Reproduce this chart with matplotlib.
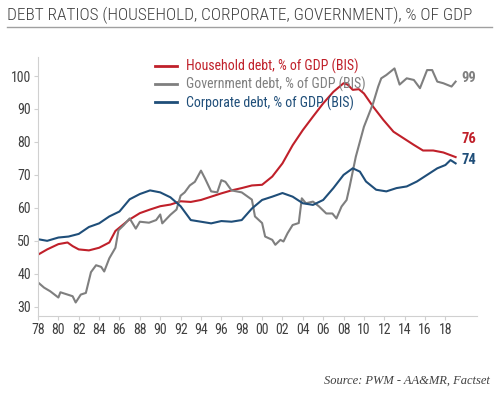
import matplotlib
matplotlib.use("Agg")
import matplotlib.pyplot as plt
from matplotlib.lines import Line2D

COND = ["Roboto Condensed", "PT Sans Narrow", "Liberation Sans Narrow", "DejaVu Sans"]

# values (year, % of GDP)
hh_years = [1978, 1978.9, 1980, 1980.9, 1981.4, 1982, 1983, 1984, 1985, 1985.6, 1986.9,
            1988, 1989, 1990, 1991, 1992, 1993, 1994, 1995, 1996, 1997, 1998, 1999,
            2000, 2001, 2002, 2003, 2004, 2005, 2006, 2007, 2008, 2008.4, 2008.9,
            2009.5, 2010, 2010.9, 2011.9, 2012.9, 2013.9, 2014.9, 2015.8, 2016.8,
            2017.8, 2019]
hh_vals = [45.8, 47.4, 49.0, 49.5, 48.4, 47.4, 47.1, 47.9, 49.5, 53.0, 56.3,
           58.4, 59.5, 60.5, 61.0, 62.0, 61.8, 62.4, 63.4, 64.4, 65.3, 66.0, 66.8,
           67.0, 69.5, 73.5, 79.0, 83.6, 87.7, 91.7, 95.2, 97.8, 97.4, 95.8,
           96.0, 94.7, 90.7, 86.7, 83.1, 81.1, 79.1, 77.4, 77.4,
           76.8, 75.4]

gov_years = [1978, 1978.6, 1979.2, 1980, 1980.2, 1980.9, 1981.4, 1981.7, 1982.2, 1982.7,
             1983.2, 1983.7, 1984.2, 1984.5, 1985, 1985.6, 1985.9, 1986.4, 1987,
             1987.6, 1988, 1988.9, 1989.6, 1990, 1990.2, 1991, 1991.6, 1992, 1992.4,
             1992.9, 1993.4, 1994, 1994.4, 1995, 1995.6, 1996, 1996.4, 1997, 1998,
             1999, 1999.3, 2000, 2000.3, 2001, 2001.3, 2001.8, 2002.1, 2002.5, 2003,
             2003.6, 2003.9, 2004.3, 2005, 2005.6, 2006.3, 2006.9, 2007.3, 2007.8,
             2008.3, 2008.6, 2009.2, 2010, 2010.9, 2011.4, 2011.7, 2012.2, 2013,
             2013.5, 2014.2, 2014.9, 2015.5, 2016.2, 2016.7, 2017.2, 2017.8, 2018.6,
             2019]
gov_vals = [37.4, 35.8, 34.7, 32.8, 34.4, 33.7, 33.2, 31.3, 33.7, 34.2,
            40.5, 42.6, 42.1, 40.7, 44.7, 47.9, 53.2, 54.7, 56.8,
            53.7, 55.8, 55.5, 56.3, 58.0, 55.3, 57.9, 59.5, 63.7, 64.7,
            66.8, 67.9, 71.3, 68.9, 65.0, 64.7, 68.4, 67.9, 65.3, 64.7,
            62.5, 57.4, 55.4, 51.3, 50.3, 48.8, 50.3, 49.8, 52.3, 54.8,
            55.4, 62.9, 61.4, 61.9, 60.4, 58.3, 58.3, 56.8, 60.4,
            62.4, 66.5, 75.5, 84.6, 91.7, 96.8, 99.3, 100.3, 102.3,
            97.4, 99.3, 98.8, 96.3, 101.8, 101.8, 98.3, 97.8, 96.8,
            98.3]

corp_years = [1978, 1978.9, 1980, 1981, 1982, 1983, 1984, 1985, 1986, 1987, 1988, 1989,
              1990, 1991, 1992, 1993, 1994, 1995, 1996, 1997, 1998, 1999, 2000, 2001,
              2002, 2003, 2004, 2005, 2006, 2007, 2008, 2008.9, 2009.6, 2010.2,
              2011.2, 2012.2, 2013.2, 2014.2, 2015.2, 2016.2, 2017.2, 2018, 2018.5,
              2019]
corp_vals = [50.5, 50.0, 51.0, 51.3, 52.1, 54.2, 55.3, 57.4, 58.9, 62.6, 64.2, 65.3,
             64.7, 63.2, 60.5, 56.3, 55.8, 55.3, 56.0, 55.8, 56.3, 59.8, 62.4, 63.4,
             64.5, 63.4, 61.4, 60.9, 62.4, 66.0, 70.0, 72.0, 71.0, 68.0,
             65.5, 65.0, 66.0, 66.5, 68.0, 70.0, 72.0, 73.0, 74.5,
             73.5]

x_ticks = list(range(1978, 2019, 2))
x_labels = [f"{y % 100:02d}" for y in x_ticks]
y_ticks = list(range(30, 101, 10))

RED, GRAY, BLUE = "#c0202a", "#7f7f7f", "#1f4e79"
TXT = "#404040"

fig = plt.figure(figsize=(5.0, 3.95), dpi=100)
ax = fig.add_axes([0.076, 0.2, 0.878, 0.656])

ax.plot(hh_years, hh_vals, color=RED, lw=1.5)
ax.plot(gov_years, gov_vals, color=GRAY, lw=1.5)
ax.plot(corp_years, corp_vals, color=BLUE, lw=1.5)

ax.set_xlim(1978, 2021.1)
ax.set_ylim(27.2, 105.8)
ax.set_xticks(x_ticks, x_labels)
ax.set_yticks(y_ticks)
for s in ("top", "right"):
    ax.spines[s].set_visible(False)
for s in ("left", "bottom"):
    ax.spines[s].set_color("#d0d0d0")
ax.tick_params(colors="#d0d0d0", labelcolor=TXT, length=3, pad=2, labelsize=10)
for lab in ax.get_xticklabels() + ax.get_yticklabels():
    lab.set_family(COND)

# end labels
ax.text(2019.6, 99.3, "99", color=GRAY, fontsize=10.5, fontweight="bold", family=COND, va="center")
ax.text(2019.6, 81.0, "76", color=RED, fontsize=10.5, fontweight="bold", family=COND, va="center")
ax.text(2019.6, 74.4, "74", color=BLUE, fontsize=10.5, fontweight="bold", family=COND, va="center")

# legend
handles = [Line2D([], [], color=c, lw=2) for c in (RED, GRAY, BLUE)]
names = ["Household debt, % of GDP (BIS)", "Government debt, % of GDP (BIS)",
         "Corporate debt, % of GDP (BIS)"]
leg = ax.legend(handles, names, loc="upper left", bbox_to_anchor=(0.238, 1.04),
                frameon=False, handlelength=1.6, handletextpad=0.65, labelspacing=0.2,
                prop={"family": COND, "size": 10})
for t, c in zip(leg.get_texts(), (RED, GRAY, BLUE)):
    t.set_color(c)

# title and rule
fig.text(0.014, 0.96, "DEBT RATIOS (HOUSEHOLD, CORPORATE, GOVERNMENT), % OF GDP",
         fontsize=12.4, fontweight="light", color="#404040", family=COND, va="center")
fig.add_artist(Line2D([0.014, 0.984], [0.931, 0.931], color="#a0a0a0", lw=1.0))

fig.text(0.98, 0.037, "Source: PWM - AA&MR, Factset", fontsize=9, style="italic",
         family=["Liberation Serif", "DejaVu Serif"], color="#404040", ha="right", va="center")

fig.savefig("out.png", dpi=100)
